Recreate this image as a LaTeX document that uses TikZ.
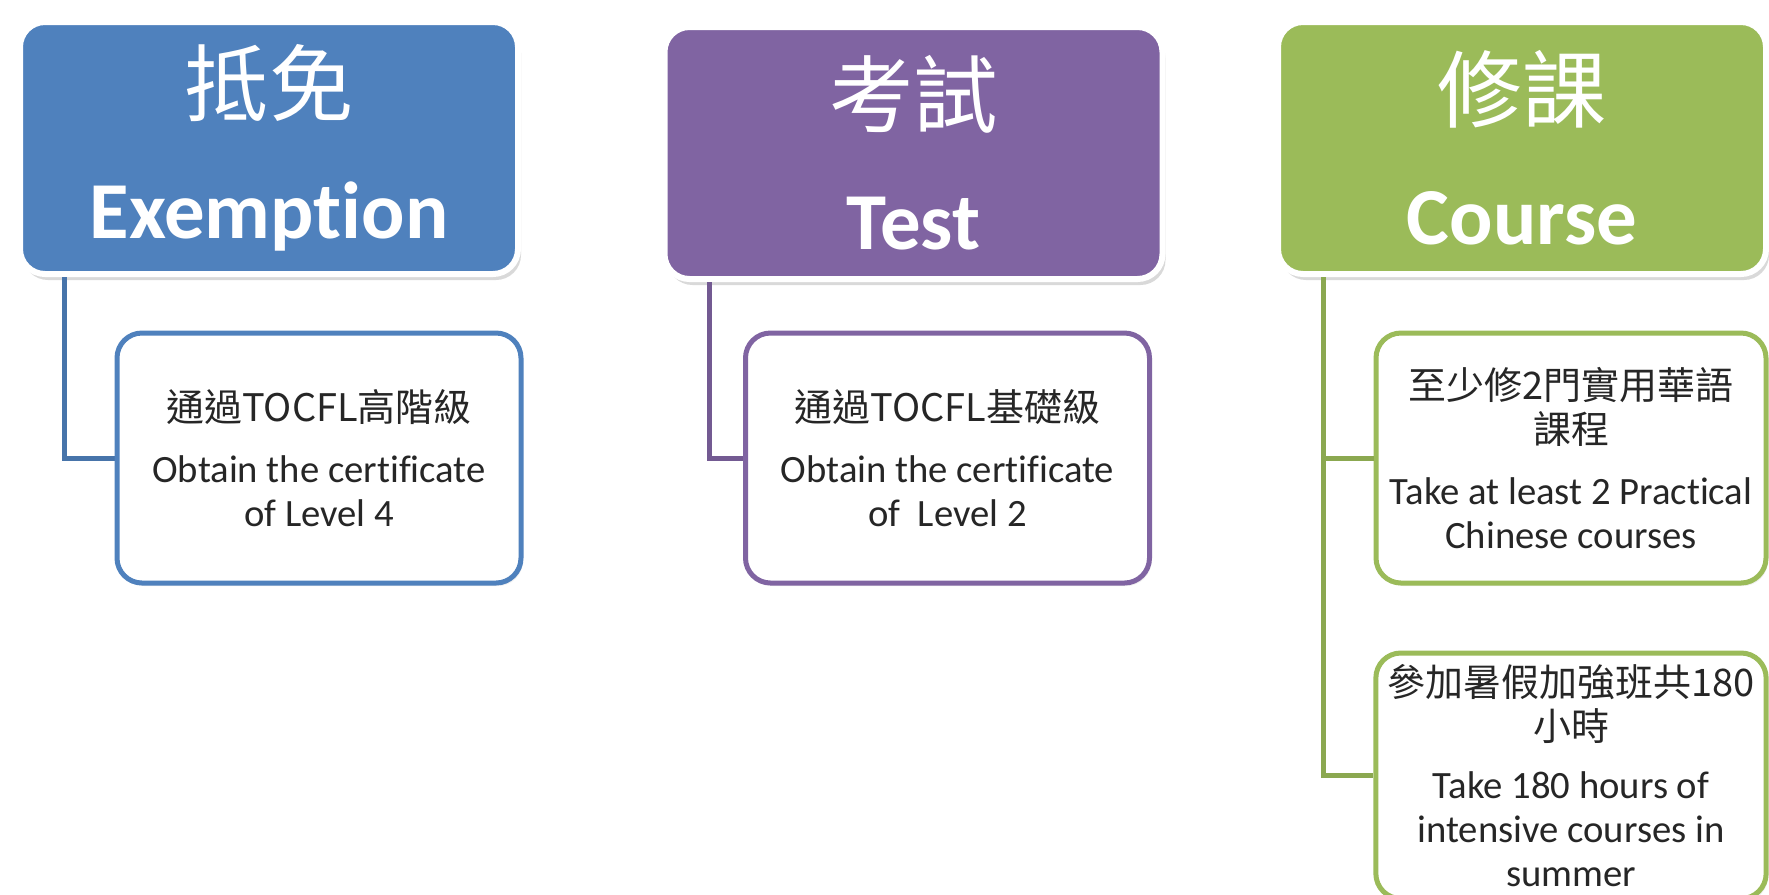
\documentclass[tikz,border=0pt]{standalone}
\usepackage{fontspec}
\setmainfont{Carlito}[Ligatures=NoCommon]
\newfontfamily\cjk{Noto Sans CJK TC}
\usetikzlibrary{positioning,calc,shadows}

\definecolor{exblue}{HTML}{4F81BD}
\definecolor{tepurple}{HTML}{8064A2}
\definecolor{cogreen}{HTML}{9BBB59}
\newcommand\zh[1]{{\cjk\fontsize{10.8}{12.5}\selectfont #1}}
\newcommand\zhhead[1]{{\cjk\fontsize{24}{35}\selectfont #1}}

\begin{document}
\begin{tikzpicture}
[headnode/.style={shape=rectangle,rounded corners=2.5mm,fill=#1,draw=white,
line width=.6mm,minimum width=4.98cm,minimum height=2.52cm,text=white,
align=center,font=\fontsize{23}{35}\selectfont,
drop shadow={shadow xshift=.3mm,shadow yshift=-.6mm,opacity=.3}},
itemnode/.style={shape=rectangle,rounded corners=2.5mm,fill=white,draw=#1,
line width=.5mm,minimum width=4.04cm,minimum height=2.5cm,align=center,
font=\fontsize{11}{12.5}\selectfont,text=black!85,
drop shadow={shadow xshift=.2mm,shadow yshift=-.3mm,opacity=.12}},
myedge/.style={draw=#1,line width=.5mm}]
\useasboundingbox (0,0) rectangle (17.69,-8.94);
%%%%%%%%%%
%%%%% headers
\node (ex) [headnode=exblue] at (2.69,-1.48)
{\zhhead{抵免}\\\bfseries Exemption};
\node (te) [headnode=tepurple] at (9.135,-1.53)
{\zhhead{考試}\\\bfseries Test};
\node (co) [headnode=cogreen,minimum width=4.88cm] at (15.22,-1.48)
{\zhhead{修課}\\\bfseries Course};
%% connectors
\draw[myedge=exblue!90!black] ($(ex.south west)+(.47,0)$) |- (3,-4.58) coordinate (exin);
\draw[myedge=tepurple!90!black] ($(te.south west)+(.48,0)$) |- (9.3,-4.58) coordinate (tein);
\coordinate (cobr) at ($(co.south west)+(.48,0)$);
%% requirements
\node (ex1) [itemnode=exblue] at (3.19,-4.58)
{\zh{通過TOCFL高階級}\\[5pt]Obtain the certificate\\of Level 4};
\node (te1) [itemnode=tepurple] at (9.475,-4.58)
{\zh{通過TOCFL基礎級}\\[5pt]Obtain the certificate\\of~ Level 2};
\node (co1) [itemnode=cogreen,minimum width=3.9cm] at (15.71,-4.58)
{\zh{至少修2門實用華語}\\\zh{課程}\\[5pt]Take at least 2 Practical\\Chinese courses};
\node (co2) [itemnode=cogreen,minimum width=3.9cm,minimum height=2.34cm,
below=.65 of co1]
{\zh{參加暑假加強班共180}\\\zh{小時}\\[4pt]Take 180 hours of\\intensive courses in\\summer};
\draw[myedge=cogreen!90!black] (cobr) |- (co1.west);
\draw[myedge=cogreen!90!black] (cobr) |- (co2.west);
\end{tikzpicture}
\end{document}
